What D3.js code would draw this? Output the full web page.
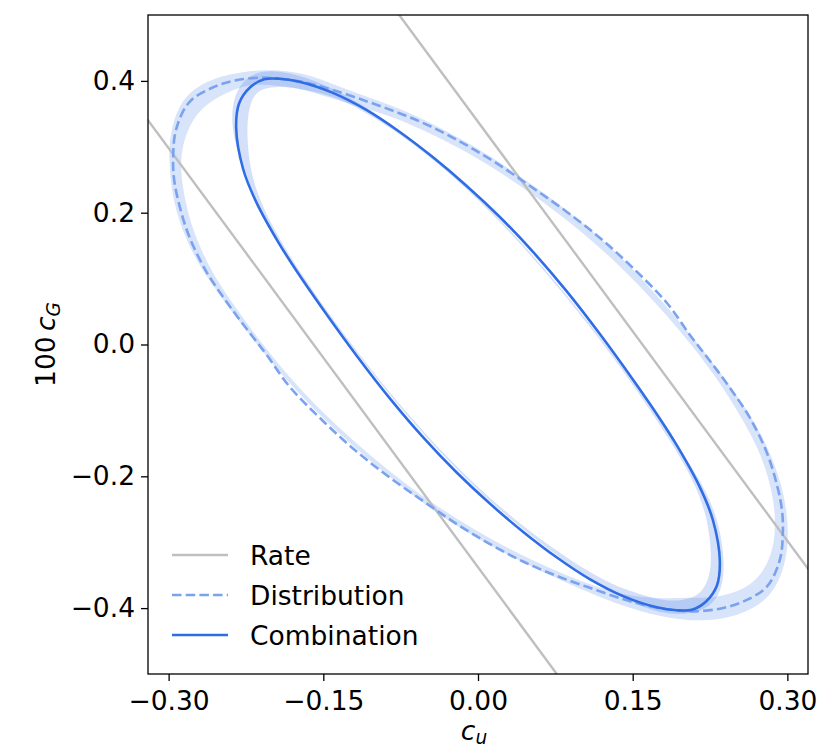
<!DOCTYPE html>
<html><head><meta charset="utf-8">
<script src="https://cdn.jsdelivr.net/npm/d3@7"></script>
<style>body{margin:0;background:#fff} text{font-family:"DejaVu Sans",sans-serif}</style>
</head><body>
<svg id="chart" width="825" height="750"></svg>
<script>
// ---------- data (data units: c_u, 100 c_G) ----------
const xDomain = [-0.32, 0.32];
const yDomain = [-0.5, 0.5];
const xTicks = [-0.30, -0.15, 0.00, 0.15, 0.30];
const xTickLabels = ["\u22120.30", "\u22120.15", "0.00", "0.15", "0.30"];
const yTicks = [-0.4, -0.2, 0.0, 0.2, 0.4];
const yTickLabels = ["\u22120.4", "\u22120.2", "0.0", "0.2", "0.4"];

// "Rate" constraint lines (two parallel bounds)
const rateUpper = [[-0.10, 0.550], [0.40, -0.510]];
const rateLower = [[-0.40, 0.510], [0.10, -0.550]];

// "Distribution" contour (dashed)
const distribution = [
 [-0.2102,0.4049],[-0.1927,0.4033],[-0.1665,0.3973],[-0.1413,0.3866],[-0.1083,0.3692],[-0.0762,0.3510],
 [-0.0442,0.3297],[-0.0112,0.3024],[0.0209,0.2721],[0.0529,0.2379],[0.0859,0.2015],[0.1180,0.1621],
 [0.1500,0.1165],[0.1830,0.0634],[0.2053,0.0149],[0.2248,-0.0246],[0.2442,-0.0656],[0.2636,-0.1111],
 [0.2801,-0.1642],[0.2898,-0.2127],[0.2947,-0.2507],[0.2956,-0.2856],[0.2927,-0.3266],[0.2801,-0.3675],
 [0.2568,-0.3903],[0.2345,-0.4009],
 [0.2102,-0.4049],[0.1927,-0.4033],[0.1665,-0.3973],[0.1413,-0.3866],[0.1083,-0.3692],[0.0762,-0.3510],
 [0.0442,-0.3297],[0.0112,-0.3024],[-0.0209,-0.2721],[-0.0529,-0.2379],[-0.0859,-0.2015],[-0.1180,-0.1621],
 [-0.1500,-0.1165],[-0.1830,-0.0634],[-0.2053,-0.0149],[-0.2248,0.0246],[-0.2442,0.0656],[-0.2636,0.1111],
 [-0.2801,0.1642],[-0.2898,0.2127],[-0.2947,0.2507],[-0.2956,0.2856],[-0.2927,0.3266],[-0.2801,0.3675],
 [-0.2568,0.3903],[-0.2345,0.4009]
];
const distributionBandOuter = [
 [-0.2102,0.4170],[-0.1859,0.4155],[-0.1636,0.4094],[-0.1345,0.3912],[-0.1024,0.3730],[-0.0694,0.3548],
 [-0.0112,0.3093],[0.0529,0.2440],[0.1345,0.1469],[0.2150,-0.0003],[0.2597,-0.0944],[0.2830,-0.1596],
 [0.2976,-0.2279],[0.3015,-0.2856],[0.2985,-0.3341],[0.2850,-0.3827],[0.2587,-0.4085],[0.2296,-0.4191],
 [0.1985,-0.4191],[0.1568,-0.4055],[0.1180,-0.3842],[0.0529,-0.3387],[-0.0112,-0.2871],[-0.0762,-0.2165],
 [-0.1733,-0.0830],[-0.2383,0.0483],[-0.2684,0.1135],[-0.2840,0.1621],[-0.2956,0.2137],[-0.3005,0.2850],
 [-0.2976,0.3290],[-0.2879,0.3715],[-0.2675,0.3973],[-0.2413,0.4109]
];
const distributionBandInner = [
 [-0.2189,0.3958],[-0.1927,0.3927],[-0.1665,0.3866],[-0.1345,0.3700],[-0.1024,0.3548],[-0.0694,0.3381],
 [-0.0112,0.2941],[0.0529,0.2303],[0.1345,0.1302],[0.2150,-0.0109],[0.2539,-0.1050],[0.2752,-0.1672],
 [0.2869,-0.2310],[0.2888,-0.2810],[0.2850,-0.3190],[0.2733,-0.3539],[0.2539,-0.3751],[0.2296,-0.3842],
 [0.2053,-0.3842],[0.1830,-0.3857],[0.1500,-0.3827],[0.1180,-0.3706],[0.0529,-0.3296],[-0.0112,-0.2750],
 [-0.0762,-0.2082],[-0.1733,-0.0747],[-0.2364,0.0574],[-0.2587,0.1105],[-0.2752,0.1666],[-0.2840,0.2152],
 [-0.2888,0.2653],[-0.2869,0.3032],[-0.2772,0.3426],[-0.2607,0.3684],[-0.2383,0.3866]
];

// "Combination" contour (solid)
const combination = [
 [-0.1927,0.4033],[-0.1733,0.3988],[-0.1413,0.3822],[-0.1083,0.3560],[-0.0762,0.3229],[-0.0442,0.2848],
 [-0.0112,0.2410],[0.0209,0.1939],[0.0529,0.1413],[0.0859,0.0809],[0.1180,0.0162],[0.1500,-0.0528],
 [0.1762,-0.1123],[0.1937,-0.1554],[0.2150,-0.2161],[0.2277,-0.2659],[0.2345,-0.3281],[0.2316,-0.3660],
 [0.2209,-0.3903],[0.2073,-0.4024],
 [0.1927,-0.4033],[0.1733,-0.3988],[0.1413,-0.3822],[0.1083,-0.3560],[0.0762,-0.3229],[0.0442,-0.2848],
 [0.0112,-0.2410],[-0.0209,-0.1939],[-0.0529,-0.1413],[-0.0859,-0.0809],[-0.1180,-0.0162],[-0.1500,0.0528],
 [-0.1762,0.1123],[-0.1937,0.1554],[-0.2150,0.2161],[-0.2277,0.2659],[-0.2345,0.3281],[-0.2316,0.3660],
 [-0.2209,0.3903],[-0.2073,0.4024]
];
const combinationBandOuter = [
 [-0.2024,0.4170],[-0.1733,0.4094],[-0.1413,0.3897],[-0.1083,0.3601],[-0.0762,0.3252],[-0.0442,0.2863],
 [0.0209,0.1955],[0.1180,0.0179],[0.1966,-0.1584],[0.2180,-0.2127],[0.2325,-0.2628],[0.2393,-0.3235],
 [0.2374,-0.3721],[0.2248,-0.3994],[0.2053,-0.4100],[0.1762,-0.4085],[0.1500,-0.3918],[0.1180,-0.3675],
 [0.0209,-0.2582],[-0.0762,-0.1009],[-0.1636,0.0816],[-0.2068,0.1877],[-0.2243,0.2531],[-0.2374,0.3108],
 [-0.2393,0.3533],[-0.2345,0.3866],[-0.2218,0.4094]
];
const combinationBandInner = [
 [-0.1801,0.3912],[-0.1539,0.3821],[-0.1296,0.3700],[-0.1053,0.3487],[-0.0762,0.3199],[-0.0442,0.2825],
 [0.0209,0.1924],[0.1180,0.0140],[0.1927,-0.1584],[0.2121,-0.2173],[0.2228,-0.2659],[0.2267,-0.3190],
 [0.2248,-0.3539],[0.2150,-0.3812],[0.1985,-0.3888],[0.1762,-0.3888],[0.1500,-0.3751],[0.1180,-0.3584],
 [0.0209,-0.2544],[-0.0762,-0.0972],[-0.1636,0.0853],[-0.2043,0.1893],[-0.2204,0.2561],[-0.2238,0.3108],
 [-0.2238,0.3426],[-0.2189,0.3791],[-0.2053,0.3912]
];

const legendItems = ["Rate", "Distribution", "Combination"];

// ---------- layout ----------
const M = {left:148, top:15, width:660, height:659};
const colors = {rate:"#bfbfbf", dist:"#7aa2ef", comb:"#2f6de4", distBand:"#6495ed", combBand:"#3a74e6"};
const fontSize = 26.5;

const svg = d3.select("#chart");
const x = d3.scaleLinear().domain(xDomain).range([M.left, M.left + M.width]);
const y = d3.scaleLinear().domain(yDomain).range([M.top + M.height, M.top]);

svg.append("defs").append("clipPath").attr("id","plotclip")
  .append("rect").attr("x",M.left).attr("y",M.top).attr("width",M.width).attr("height",M.height);

const g = svg.append("g").attr("clip-path","url(#plotclip)");

const closed = d3.line().x(d=>x(d[0])).y(d=>y(d[1])).curve(d3.curveCatmullRomClosed.alpha(0.5));
const soft = d3.line().x(d=>x(d[0])).y(d=>y(d[1])).curve(d3.curveBasisClosed);
const straight = d3.line().x(d=>x(d[0])).y(d=>y(d[1]));

// bands
g.append("path").attr("d", soft(distributionBandOuter) + soft(distributionBandInner))
  .attr("fill", colors.distBand).attr("fill-opacity",0.25).attr("fill-rule","evenodd");
g.append("path").attr("d", soft(combinationBandOuter) + soft(combinationBandInner))
  .attr("fill", colors.combBand).attr("fill-opacity",0.22).attr("fill-rule","evenodd");

// rate lines
[rateUpper, rateLower].forEach(l => {
  g.append("path").attr("d", straight(l)).attr("fill","none")
    .attr("stroke", colors.rate).attr("stroke-width",2.4);
});

// distribution (dashed)
g.append("path").attr("d", closed(distribution)).attr("fill","none")
  .attr("stroke", colors.dist).attr("stroke-width",2.6).attr("stroke-dasharray","9.5,4.2");
// combination (solid)
g.append("path").attr("d", closed(combination)).attr("fill","none")
  .attr("stroke", colors.comb).attr("stroke-width",2.6);

// axes
const xAxis = d3.axisBottom(x).tickValues(xTicks).tickFormat((d,i)=>xTickLabels[i]).tickSize(7).tickPadding(10);
const yAxis = d3.axisLeft(y).tickValues(yTicks).tickFormat((d,i)=>yTickLabels[i]).tickSize(7).tickPadding(6);
const gx = svg.append("g").attr("transform",`translate(0,${M.top+M.height})`).call(xAxis);
const gy = svg.append("g").attr("transform",`translate(${M.left},0)`).call(yAxis);
[gx, gy].forEach(a => {
  a.select(".domain").remove();
  a.selectAll(".tick line").attr("stroke","#000").attr("stroke-width",1.3);
  a.selectAll(".tick text").attr("font-size",fontSize).attr("font-family","DejaVu Sans").attr("fill","#000");
});

// frame
svg.append("rect").attr("x",M.left).attr("y",M.top).attr("width",M.width).attr("height",M.height)
  .attr("fill","none").attr("stroke","#000").attr("stroke-width",1.3);

// axis labels
const xl = svg.append("text").attr("x", M.left + M.width/2 - 4).attr("y", 740)
  .attr("text-anchor","middle").attr("font-size",fontSize);
xl.append("tspan").attr("font-style","italic").text("c");
xl.append("tspan").attr("font-style","italic").attr("font-size",fontSize*0.7).attr("dy",4).text("u");

const yl = svg.append("text").attr("transform",`translate(55,${M.top+M.height/2}) rotate(-90)`)
  .attr("text-anchor","middle").attr("font-size",fontSize);
yl.append("tspan").text("100\u2009");
yl.append("tspan").attr("font-style","italic").text("c");
yl.append("tspan").attr("font-style","italic").attr("font-size",fontSize*0.7).attr("dy",5).text("G");

// legend
const legendKeys = [
  {stroke: colors.rate, dash: null},
  {stroke: colors.dist, dash: "9.5,4.2"},
  {stroke: colors.comb, dash: null}
];
const lg = svg.append("g");
legendItems.forEach((name,i) => {
  const yy = 555 + i*40;
  lg.append("line").attr("x1",172).attr("x2",228).attr("y1",yy).attr("y2",yy)
    .attr("stroke",legendKeys[i].stroke).attr("stroke-width",2.6)
    .attr("stroke-dasharray",legendKeys[i].dash);
  lg.append("text").attr("x",250).attr("y",yy).attr("dy","0.36em")
    .attr("font-size",fontSize).text(name);
});
</script>
</body></html>
